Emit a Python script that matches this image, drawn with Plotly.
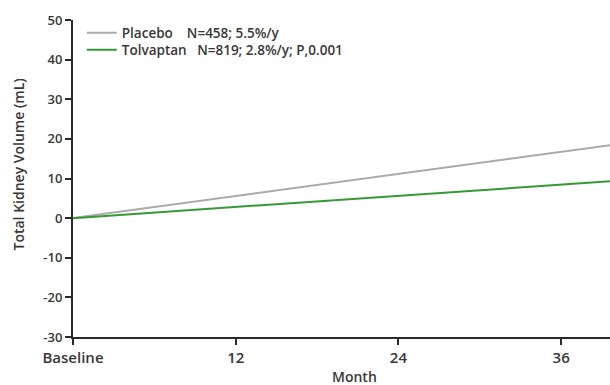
import plotly.graph_objects as go

months = [0, 39.6]
placebo = [0, 18.4]
tolvaptan = [0, 9.3]
x_ticks = [0, 12, 24, 36]
x_tick_labels = ["Baseline", "12", "24", "36"]
y_ticks = [-30, -20, -10, 0, 10, 20, 30, 40, 50]
y_tick_labels = ["-30", "-20", "-10", "0", "10", "20", "30", "40", "50"]

NB = "\u00a0"
placebo_label = "Placebo" + NB * 4 + "N=458; 5.5%/y"
tolvaptan_label = "Tolvaptan" + NB * 3 + "N=819; 2.8%/y; P,0.001"

TXT = "#383838"
AX = "#2a2a2a"

fig = go.Figure()
fig.add_trace(go.Scatter(x=months, y=placebo, mode="lines", name=placebo_label,
                         line=dict(color="#aaaaaa", width=2), legend="legend"))
fig.add_trace(go.Scatter(x=months, y=tolvaptan, mode="lines", name=tolvaptan_label,
                         line=dict(color="#359a35", width=2), legend="legend2"))

leg_font = dict(family="Open Sans", size=13.5, color=TXT, weight=600)
leg_common = dict(xanchor="left", yanchor="middle", font=leg_font,
                  bgcolor="rgba(0,0,0,0)", itemwidth=30, borderwidth=0)

fig.update_layout(
    width=610, height=385,
    margin=dict(l=73, r=0, t=20, b=48),
    paper_bgcolor="white", plot_bgcolor="white",
    font=dict(family="Open Sans", size=13, color=TXT, weight=600),
    showlegend=True,
    legend=dict(x=0.0164, y=(337 - 33) / 317, **leg_common),
    legend2=dict(x=0.0164, y=(337 - 50) / 317, **leg_common),
    xaxis=dict(range=[0, 39.6], tickvals=x_ticks, ticktext=x_tick_labels,
               showline=True, linecolor=AX, linewidth=2,
               ticks="outside", ticklen=6, tickwidth=2, tickcolor=AX,
               showgrid=False, zeroline=False, automargin=False,
               tickfont=dict(size=15, color=TXT)),
    yaxis=dict(range=[-30, 50], tickvals=y_ticks, ticktext=y_tick_labels,
               showline=True, linecolor=AX, linewidth=2,
               ticks="outside", ticklen=6, tickwidth=2, tickcolor=AX,
               showgrid=False, zeroline=False, automargin=False,
               tickfont=dict(size=13, color=TXT)),
    annotations=[
        dict(text="Total Kidney Volume (mL)", textangle=-90,
             xref="paper", yref="paper", x=0, y=0.5, xanchor="center", yanchor="middle",
             xshift=-55, yshift=14, showarrow=False,
             font=dict(family="Open Sans", size=14, color=TXT, weight=600)),
        dict(text="Month", xref="paper", yref="paper", x=0.525, y=0,
             xanchor="center", yanchor="bottom", yshift=-51, showarrow=False,
             font=dict(family="Open Sans", size=14, color=TXT, weight=600)),
    ],
)
fig.write_html(
    "out.html",
    config={"displayModeBar": False},
    post_script="document.body.style.margin='0';document.body.style.overflow='hidden';",
)
